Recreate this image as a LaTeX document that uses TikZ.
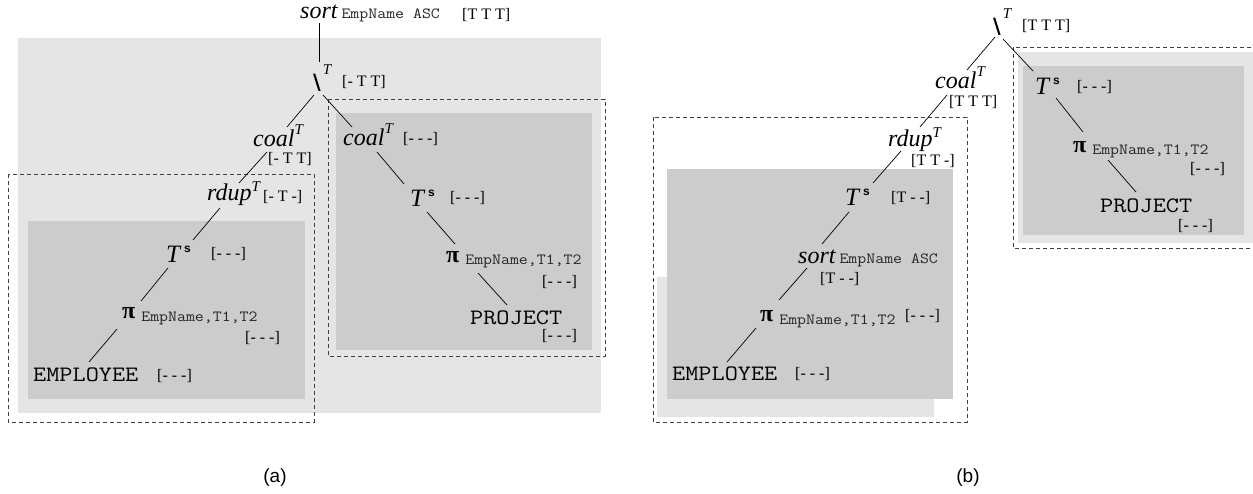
\documentclass[tikz,border=0pt]{standalone}
\usepackage{graphicx}
\usepackage{fontspec}
\setmainfont{Liberation Serif}
\newfontfamily\sansfam{Liberation Sans}
\newfontfamily\djvfam{DejaVu Sans}
\newcommand{\OpN}[1]{{\fontsize{24pt}{24pt}\selectfont\itshape #1}}
\newcommand{\SupT}[1]{\raisebox{#1}{\fontsize{15pt}{15pt}\selectfont\itshape T}}
\newcommand{\TSym}{{\fontsize{25pt}{25pt}\selectfont\itshape T}\hspace{4pt}\raisebox{10pt}{\fontsize{12pt}{12pt}\selectfont\sansfam\bfseries s}}
\newcommand{\PiSym}{{\fontsize{24pt}{24pt}\selectfont\bfseries π}}
\newcommand{\SubTxt}[1]{{\fontsize{15.5pt}{15.5pt}\selectfont\ttfamily\color{black!85}\scalebox{1.12}[1]{#1}}}
\newcommand{\RelTxt}[1]{{\fontsize{22pt}{22pt}\selectfont\ttfamily\scalebox{1.16}[1]{#1}}}
\newcommand{\DiffSym}{{\fontsize{21pt}{21pt}\selectfont\djvfam\bfseries\textbackslash}}
\begin{document}
\begin{tikzpicture}[x=1pt,y=-1pt,
  txt/.style={inner sep=0pt,anchor=base west},
  lbl/.style={inner sep=0pt,anchor=base west,font=\fontsize{16pt}{16pt}\selectfont},
  captxt/.style={inner sep=0pt,font=\fontsize{19pt}{19pt}\selectfont\sansfam},
  conn/.style={line width=0.7pt},
  lightbox/.style={fill=black!10},
  midbox/.style={fill=black!20},
  dashbox/.style={draw=black!75,line width=0.8pt,dash pattern=on 4pt off 3pt}]
\clip (0,0) rectangle (1253,494);
\fill[white] (0,0) rectangle (1253,494);

% ---------- panel (a) boxes ----------
\fill[lightbox] (18,38) rectangle (601,413);
\fill[midbox] (336,113) rectangle (592,350);
\fill[midbox] (28,221) rectangle (305,399);
\draw[dashbox] (328,99) rectangle (605,356);
\draw[dashbox] (8,174) rectangle (314,422);

% ---------- panel (b) boxes ----------
\fill[lightbox] (657,277) rectangle (934,417);
\fill[midbox] (667,169) rectangle (953,399);
\draw[dashbox] (653,117) rectangle (967,422);
\fill[lightbox] (1018,52) rectangle (1260,243);
\fill[midbox] (1023,66) rectangle (1244,235);
\draw[dashbox] (1013,47) rectangle (1260,248);

% ---------- panel (a) nodes ----------
\node[txt] (sortA) at (300,19) {\OpN{sort}\hspace{4pt}\SubTxt{EmpName ASC}};
\node[lbl] (lSortA) at (462,20) {[T T T]};
\node[txt] (diffA) at (313,90) {\DiffSym\hspace{2pt}\SupT{15pt}};
\node[lbl] (lDiffA) at (342,87) {[- T T]};
\node[txt] (coalLA) at (253,147) {\OpN{coal}\SupT{12pt}};
\node[lbl] (lCoalLA) at (268,164) {[- T T]};
\node[txt] (coalRA) at (343,146) {\OpN{coal}\SupT{12pt}};
\node[lbl] (lCoalRA) at (403,144) {[- - -]};
\node[txt] (tsRA) at (410,207) {\TSym};
\node[lbl] (lTsRA) at (450,203) {[- - -]};
\node[txt] (piRA) at (446,263) {\PiSym\hspace{6pt}\raisebox{-2pt}{\SubTxt{EmpName,T1,T2}}};
\node[lbl] (lPiRA) at (542,287) {[- - -]};
\node[txt] (projA) at (470,325) {\RelTxt{PROJECT}};
\node[lbl] (lProjA) at (542,341) {[- - -]};
\node[txt] (rdupA) at (207,201) {\OpN{rdup}\SupT{9pt}};
\node[lbl] (lRdupA) at (263,202) {[- T -]};
\node[txt] (tsLA) at (166,263) {\TSym};
\node[lbl] (lTsLA) at (211,259) {[- - -]};
\node[txt] (piLA) at (122,319) {\PiSym\hspace{6pt}\raisebox{-3pt}{\SubTxt{EmpName,T1,T2}}};
\node[lbl] (lPiLA) at (245,342) {[- - -]};
\node[txt] (empA) at (33,381) {\RelTxt{EMPLOYEE}};
\node[lbl] (lEmpA) at (157,380) {[- - -]};
\node[captxt] (capA) at (275,478) {(a)};

\draw[conn] ([shift={(19,4)}]sortA.base west) -- ([shift={(6,-28)}]diffA.base west);
\draw[conn] ([shift={(1,5)}]diffA.base west) -- ([shift={(34,-20)}]coalLA.base west);
\draw[conn] ([shift={(10,5)}]diffA.base west) -- ([shift={(9,-19)}]coalRA.base west);
\draw[conn] ([shift={(14,5)}]coalLA.base west) -- ([shift={(32,-18)}]rdupA.base west);
\draw[conn] ([shift={(34,6)}]coalRA.base west) -- ([shift={(-6,-23)}]tsRA.base west);
\draw[conn] ([shift={(17,5)}]tsRA.base west) -- ([shift={(9,-19)}]piRA.base west);
\draw[conn] ([shift={(32,10)}]piRA.base west) -- ([shift={(37,-20)}]projA.base west);
\draw[conn] ([shift={(13,7)}]rdupA.base west) -- ([shift={(27,-23)}]tsLA.base west);
\draw[conn] ([shift={(2,5)}]tsLA.base west) -- ([shift={(19,-18)}]piLA.base west);
\draw[conn] ([shift={(-5,10)}]piLA.base west) -- ([shift={(56,-19)}]empA.base west);

% ---------- panel (b) nodes ----------
\node[txt] (diffB) at (993,34) {\DiffSym\hspace{2pt}\SupT{15pt}};
\node[lbl] (lDiffB) at (1022,31) {[T T T]};
\node[txt] (coalB) at (935,89) {\OpN{coal}\SupT{12pt}};
\node[lbl] (lCoalB) at (949,107) {[T T T]};
\node[txt] (rdupB) at (888,147) {\OpN{rdup}\SupT{9pt}};
\node[lbl] (lRdupB) at (911,166) {[T T -]};
\node[txt] (tsLB) at (845,206) {\TSym};
\node[lbl] (lTsLB) at (891,203) {[T - -]};
\node[txt] (sortB) at (798,264) {\OpN{sort}\hspace{4pt}\SubTxt{EmpName ASC}};
\node[lbl] (lSortB) at (820,284) {[T - -]};
\node[txt] (piLB) at (760,322) {\PiSym\hspace{6pt}\raisebox{-2pt}{\SubTxt{EmpName,T1,T2}}};
\node[lbl] (lPiLB) at (905,321) {[- - -]};
\node[txt] (empB) at (672,380) {\RelTxt{EMPLOYEE}};
\node[lbl] (lEmpB) at (795,378) {[- - -]};
\node[txt] (tsRB) at (1035,95) {\TSym};
\node[lbl] (lTsRB) at (1077,92) {[- - -]};
\node[txt] (piRB) at (1073,153) {\PiSym\hspace{6pt}\raisebox{-2pt}{\SubTxt{EmpName,T1,T2}}};
\node[lbl] (lPiRB) at (1190,174) {[- - -]};
\node[txt] (projB) at (1100,213) {\RelTxt{PROJECT}};
\node[lbl] (lProjB) at (1178,231) {[- - -]};
\node[captxt] (capB) at (968,478) {(b)};

\draw[conn] ([shift={(2,3)}]diffB.base west) -- ([shift={(32,-19)}]coalB.base west);
\draw[conn] ([shift={(10,5)}]diffB.base west) -- ([shift={(-2,-24)}]tsRB.base west);
\draw[conn] ([shift={(12,6)}]coalB.base west) -- ([shift={(32,-20)}]rdupB.base west);
\draw[conn] ([shift={(13,4)}]rdupB.base west) -- ([shift={(28,-23)}]tsLB.base west);
\draw[conn] ([shift={(4,6)}]tsLB.base west) -- ([shift={(24,-20)}]sortB.base west);
\draw[conn] ([shift={(9,4)}]sortB.base west) -- ([shift={(19,-22)}]piLB.base west);
\draw[conn] ([shift={(-4,6)}]piLB.base west) -- ([shift={(55,-18)}]empB.base west);
\draw[conn] ([shift={(21,3)}]tsRB.base west) -- ([shift={(10,-21)}]piRB.base west);
\draw[conn] ([shift={(35,7)}]piRB.base west) -- ([shift={(36,-21)}]projB.base west);
\end{tikzpicture}
\end{document}
